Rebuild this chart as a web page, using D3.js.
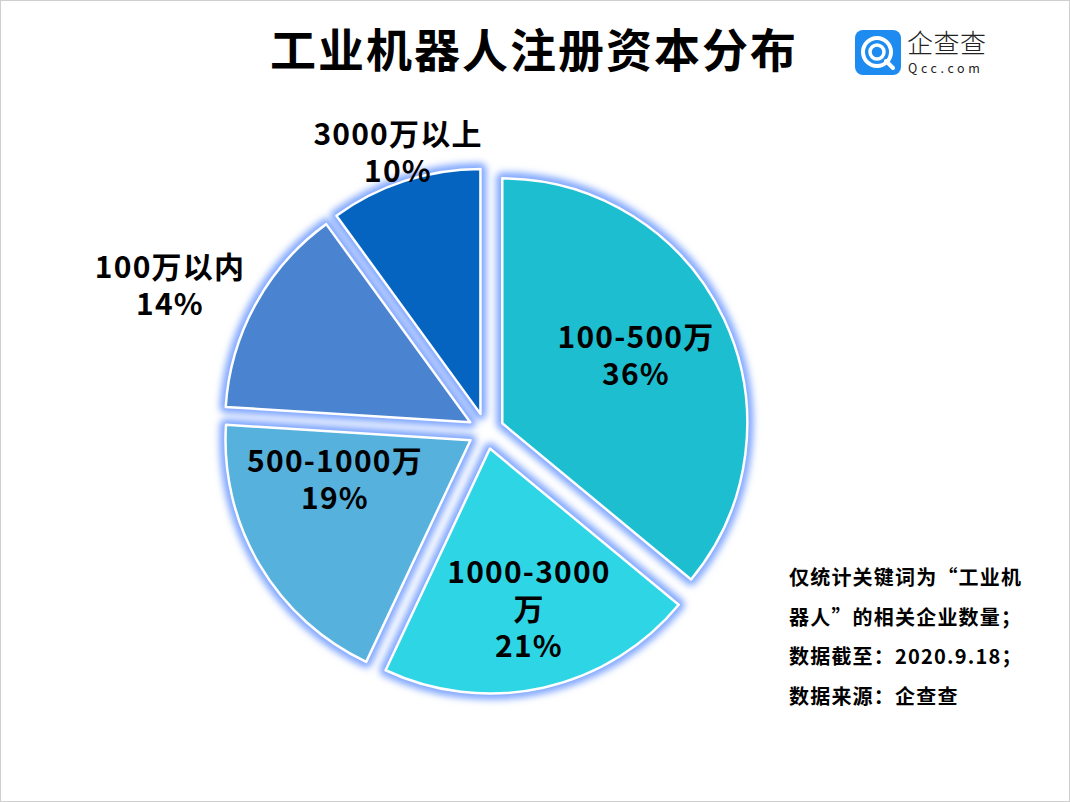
<!DOCTYPE html>
<html><head><meta charset="utf-8">
<script src="https://cdn.jsdelivr.net/npm/d3@7"></script>
<style>
html,body{margin:0;padding:0;background:#fff;}
svg{display:block;}
text{font-family:"Noto Sans CJK SC","Noto Sans",sans-serif;}
</style></head><body>
<script>
const categories = ["100-500万","1000-3000万","500-1000万","100万以内","3000万以上"];
const values = [36,21,19,14,10];
const labelLines = [["100-500万","36%"],["1000-3000","万","21%"],["500-1000万","19%"],["100万以内","14%"],["3000万以上","10%"]];
const colors = ["#1CBED0","#2ED6E5","#56B1DC","#4A83CF","#0564BF"];
const notes = ["仅统计关键词为“工业机","器人”的相关企业数量；","数据截至：2020.9.18；","数据来源：企查查"];

const W=1070,H=802;
const svg=d3.select("body").append("svg").attr("width",W).attr("height",H);
svg.append("rect").attr("x",0.5).attr("y",0.5).attr("width",W-1).attr("height",H-1).attr("fill","#fff").attr("stroke","#cfcfcf");

const defs=svg.append("defs");
const f=defs.append("filter").attr("id","glow").attr("x","-20%").attr("y","-20%").attr("width","140%").attr("height","140%");
f.append("feGaussianBlur").attr("stdDeviation",3.5);

svg.append("text").attr("x",534).attr("y",67).attr("text-anchor","middle")
  .attr("font-size",46).attr("font-weight",700).attr("letter-spacing",2).attr("fill","#000")
  .text("工业机器人注册资本分布");

// logo
const lg=svg.append("g").attr("transform","translate(855,30)");
lg.append("rect").attr("width",46).attr("height",45).attr("rx",8).attr("fill","#1E8BF0");
lg.append("circle").attr("cx",22).attr("cy",22).attr("r",14).attr("fill","none").attr("stroke","#fff").attr("stroke-width",4);
lg.append("circle").attr("cx",22).attr("cy",22).attr("r",7).attr("fill","none").attr("stroke","#fff").attr("stroke-width",3.5);
lg.append("line").attr("x1",31).attr("y1",31).attr("x2",38).attr("y2",38).attr("stroke","#fff").attr("stroke-width",4).attr("stroke-linecap","round");
svg.append("text").attr("x",907).attr("y",53).attr("font-size",26).attr("font-weight",300).attr("letter-spacing",0.5).attr("fill","#222").text("企查查");
svg.append("text").attr("x",908).attr("y",73).attr("font-size",12.5).attr("letter-spacing",3.6).attr("fill","#222").attr("font-family","DejaVu Sans").text("Qcc.com");

const cx=486,cy=431,r=245,off=18;
const pie=d3.pie().sort(null).value(d=>d);
const arcs=pie(values);
const arc=d3.arc().innerRadius(0).outerRadius(r);
const g=svg.append("g").attr("transform",`translate(${cx},${cy})`);
arcs.forEach((a,i)=>{
  const mid=(a.startAngle+a.endAngle)/2;
  const dx=Math.sin(mid)*off, dy=-Math.cos(mid)*off;
  const sg=g.append("g").attr("transform",`translate(${dx},${dy})`);
  sg.append("path").attr("d",arc(a)).attr("fill","none").attr("stroke","#7FA6FF").attr("stroke-width",12).attr("stroke-linejoin","round").attr("filter","url(#glow)");
  sg.append("path").attr("d",arc(a)).attr("fill",colors[i]).attr("stroke","#fff").attr("stroke-width",2.5).attr("stroke-linejoin","round");
});

const labelPos=[[636,338],[529,573],[335,462],[170,268],[398,135]];
labelLines.forEach((ls,i)=>{
  const t=svg.append("text").attr("text-anchor","middle")
    .attr("font-size",30).attr("font-weight",600).attr("letter-spacing",1.2).attr("fill","#000");
  ls.forEach((s,j)=>{
    t.append("tspan").attr("x",labelPos[i][0]).attr("y",labelPos[i][1]+j*37+10).text(s);
  });
});

const nt=svg.append("text").attr("font-size",20).attr("font-weight",700).attr("letter-spacing",1.2).attr("fill","#000");
notes.forEach((s,i)=>{
  nt.append("tspan").attr("x",789).attr("y",585+i*39.5).text(s);
});
</script>
</body></html>
